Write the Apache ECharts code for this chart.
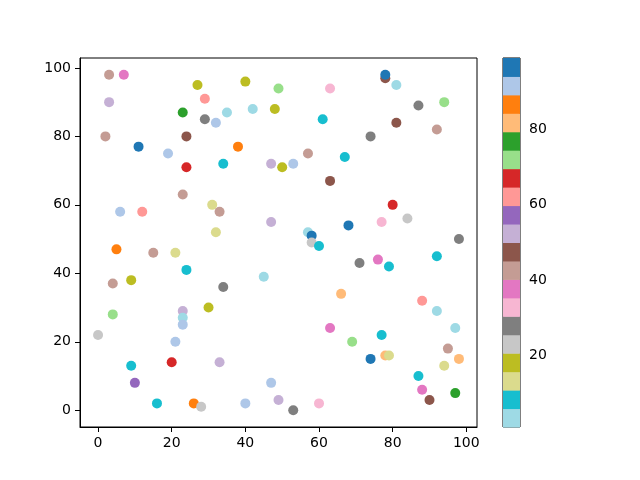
<!DOCTYPE html>
<html>
<head>
<meta charset="utf-8">
<script src="https://cdn.jsdelivr.net/npm/echarts@6/dist/echarts.min.js"></script>
<style>
html,body{margin:0;padding:0;background:#fff;}
#chart{width:640px;height:480px;}
</style>
</head>
<body>
<div id="chart"></div>
<script>
// scatter points
var xs = [3,7,27,40,49,63,78,78,81,3,29,94,87,23,35,42,48,29,32,61,81,92,2,24,74,11,38,19,57,67,24,34,47,50,53,63,23,31,80,6,12,33,32,47,77,84,57,58,58,60,68,98,5,15,21,71,76,79,92,24,45,4,9,34,66,88,4,30,23,23,23,92,97,63,69,0,21,77,95,98,74,78,79,94,9,20,33,87,10,47,16,26,28,40,49,53,60,88,90,97];
var ys = [98,98,95,96,94,94,97,98,95,90,91,90,89,87,87,88,88,85,84,85,84,82,80,80,80,77,77,75,75,74,71,72,72,71,72,67,63,60,60,58,58,58,52,55,55,56,52,51,49,48,54,50,47,46,46,43,44,42,45,41,39,37,38,36,34,32,28,30,29,27,25,29,24,24,20,22,20,22,18,15,15,16,16,13,13,14,14,10,8,8,2,2,1,2,3,0,2,6,3,5];
var cs = [43,38,18,19,72,33,47,99,3,52,62,71,28,77,4,2,17,27,91,8,48,42,44,46,29,96,86,92,42,9,67,7,53,18,91,48,43,13,66,93,61,44,14,51,33,22,4,97,24,9,96,27,88,42,12,28,38,8,7,9,1,43,19,27,82,63,73,17,52,2,92,4,3,37,72,23,91,8,43,81,97,82,13,12,8,67,52,7,57,92,8,87,23,92,53,28,33,38,47,77];

var xTicks = [0,20,40,60,80,100];
var yTicks = [0,20,40,60,80,100];
var cTicks = [20,40,60,80];

// tab20, reversed for the colour bar (high = dark blue)
var tab20 = ['#1f77b4','#aec7e8','#ff7f0e','#ffbb78','#2ca02c','#98df8a','#d62728','#ff9896','#9467bd','#c5b0d5',
             '#8c564b','#c49c94','#e377c2','#f7b6d2','#7f7f7f','#c7c7c7','#bcbd22','#dbdb8d','#17becf','#9edae5'];

var cmin = Math.min.apply(null, cs), cmax = Math.max.apply(null, cs);
function colorFor(c){
	var i = Math.floor((c - cmin) / (cmax - cmin) * 20);
	if (i > 19) i = 19;
	if (i < 0) i = 0;
	return tab20[19 - i];
}

var points = [];
for (var i = 0; i < xs.length; i++) points.push([xs[i], ys[i], cs[i]]);

// matplotlib style 5% margins
var xmin = Math.min.apply(null, xs), xmax = Math.max.apply(null, xs);
var ymin = Math.min.apply(null, ys), ymax = Math.max.apply(null, ys);
var xm = (xmax - xmin) * 0.05, ym = (ymax - ymin) * 0.05;

var bins = [];
for (var k = 0; k < 20; k++) {
	bins.push([cmin + (cmax - cmin) * k / 20, cmin + (cmax - cmin) * (k + 1) / 20, k]);
}

var font = 'DejaVu Sans';
var axisLine = {show: true, onZero: false, lineStyle: {color: '#000', width: 1}};
var axisTick = {show: true, inside: false, length: 5, lineStyle: {color: '#000', width: 1}};

var myChart = echarts.init(document.getElementById('chart'));
var option = {
	backgroundColor: '#fff',
	animation: false,
	grid: [
		{left: 80, right: 163, top: 58, bottom: 53, show: true, borderColor: '#000', borderWidth: 1, backgroundColor: 'transparent'},
		{left: 503, width: 17, top: 58, bottom: 53, show: true, borderColor: '#000', borderWidth: 1, backgroundColor: 'transparent'}
	],
	xAxis: [
		{type: 'value', gridIndex: 0, min: xmin - xm, max: xmax + xm, splitLine: {show: false},
		 axisLine: axisLine, axisTick: Object.assign({customValues: xTicks}, axisTick),
		 axisLabel: {customValues: xTicks, color: '#000', fontFamily: font, fontSize: 14, margin: 9}},
		{type: 'value', gridIndex: 1, min: 0, max: 1, show: false}
	],
	yAxis: [
		{type: 'value', gridIndex: 0, min: ymin - ym, max: ymax + ym, splitLine: {show: false},
		 axisLine: axisLine, axisTick: Object.assign({customValues: yTicks}, axisTick),
		 axisLabel: {customValues: yTicks, color: '#000', fontFamily: font, fontSize: 14, margin: 9}},
		{type: 'value', gridIndex: 1, position: 'right', min: cmin, max: cmax, splitLine: {show: false},
		 axisLine: {show: false}, axisTick: Object.assign({customValues: cTicks}, axisTick),
		 axisLabel: {customValues: cTicks, color: '#000', fontFamily: font, fontSize: 14, margin: 9}}
	],
	series: [
		{
			type: 'scatter',
			xAxisIndex: 0, yAxisIndex: 0,
			symbolSize: 10,
			data: points,
			itemStyle: {opacity: 1, color: function(p){ return colorFor(p.value[2]); }}
		},
		{
			type: 'custom',
			xAxisIndex: 1, yAxisIndex: 1,
			data: bins,
			renderItem: function(params, api){
				var p0 = api.coord([0, api.value(0)]);
				var p1 = api.coord([1, api.value(1)]);
				return {
					type: 'rect',
					shape: {x: p0[0], y: p1[1], width: p1[0] - p0[0], height: p0[1] - p1[1] + 0.5},
					style: {fill: tab20[19 - api.value(2)]}
				};
			}
		}
	]
};
myChart.setOption(option);
</script>
</body>
</html>
